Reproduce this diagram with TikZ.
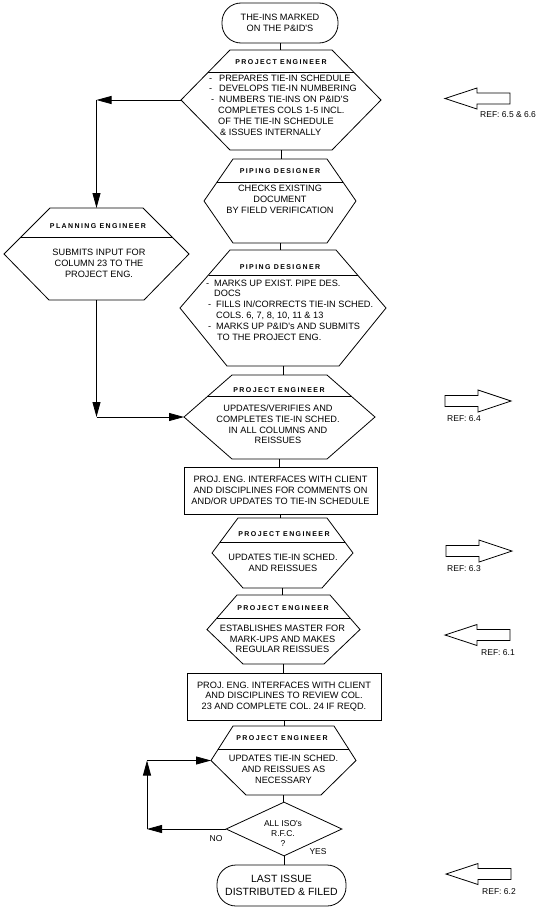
\documentclass[tikz,border=0pt]{standalone}
\usepackage{fontspec}
\setmainfont{Liberation Sans}
\newfontfamily\titlefont[LetterSpace=20]{Liberation Sans}
\usetikzlibrary{arrows.meta,shapes.geometric,calc}
\tikzset{
  line/.style={draw, line width=0.8pt},
  flow/.style={line, -{Triangle[length=15pt,width=8pt]}},
  hexbox/.style={inner sep=0pt, outer sep=0pt},
  term/.style={line, rounded corners=19pt, inner sep=0pt},
  procbox/.style={line, inner sep=0pt},
  titletext/.style={font=\titlefont\bfseries\fontsize{7}{8}\selectfont, inner sep=0pt},
  bodytext/.style={font=\fontsize{9.2}{10.8}\selectfont, align=center, inner sep=0pt},
  bodyleft/.style={bodytext, align=left, anchor=west},
  smalltext/.style={font=\fontsize{8.5}{10.4}\selectfont, align=center, inner sep=0pt},
  reftext/.style={font=\fontsize{8.5}{10}\selectfont, anchor=west, inner sep=0pt},
  larrow/.pic={\draw[line] (0,0) -- (32,-10.5) -- (32,-5.5) -- (65,-5.5) -- (65,5.5) -- (32,5.5) -- (32,10.5) -- cycle;},
  rarrow/.pic={\draw[line] (0,0) -- (-33,-11) -- (-33,-5.5) -- (-66,-5.5) -- (-66,5.5) -- (-33,5.5) -- (-33,11) -- cycle;}
}
% #1 node name, #2 top inset, #3 bottom inset, #4 divider fraction
\newcommand\hexdraw[4]{%
  \draw[line] (#1.west) -- ([xshift=#2pt]#1.north west) -- ([xshift=-#2pt]#1.north east) -- (#1.east)
     -- ([xshift=-#3pt]#1.south east) -- ([xshift=#3pt]#1.south west) -- cycle;
  \draw[line] ($(#1.west)!#4!([xshift=#2pt]#1.north west)$) -- ($(#1.east)!#4!([xshift=-#2pt]#1.north east)$);
}
\begin{document}
\begin{tikzpicture}[x=1pt,y=-1pt]
\fill[white] (0,0) rectangle (549,910);
\useasboundingbox (0,0) rectangle (549,910);

% start
\node[term, bodytext, minimum width=116pt, minimum height=40pt] (start) at (280,23) {THE-INS MARKED\\ON THE P\&ID\textquotesingle S};

% hex 1
\node[hexbox, minimum width=200pt, minimum height=100pt] (h1) at (281,100) {};
\hexdraw{h1}{49}{49}{0.56}
\node[titletext] at (281,62) {PROJECT ENGINEER};
\node[bodyleft] at (209,105) {\makebox[10pt][l]{-}PREPARES TIE-IN SCHEDULE\\
\makebox[10pt][l]{-}DEVELOPS TIE-IN NUMBERING\\
\hspace{2pt}\makebox[8pt][l]{-}NUMBERS TIE-INS ON P\&ID\textquotesingle S\\
\hspace{9pt}COMPLETES COLS 1-5 INCL.\\
\hspace{9pt}OF THE TIE-IN SCHEDULE\\
\hspace{11pt}\& ISSUES INTERNALLY};

% hex 2
\node[hexbox, minimum width=152pt, minimum height=84pt] (h2) at (280,201) {};
\hexdraw{h2}{29}{29}{0.45}
\node[titletext] at (280,171) {PIPING DESIGNER};
\node[bodytext] at (280,199.5) {CHECKS EXISTING\\DOCUMENT\\BY FIELD VERIFICATION};

% hex 3
\node[hexbox, minimum width=206pt, minimum height=116pt] (h3) at (283,308) {};
\hexdraw{h3}{50}{47}{0.57}
\node[titletext] at (280,267) {PIPING DESIGNER};
\node[bodyleft] at (206,310) {\makebox[8pt][l]{-}MARKS UP EXIST. PIPE DES.\\
\hspace{8pt}DOCS\\
\hspace{2pt}\makebox[8pt][l]{-}FILLS IN/CORRECTS TIE-IN SCHED.\\
\hspace{10pt}COLS. 6, 7, 8, 10, 11 \& 13\\
\hspace{2pt}\makebox[8pt][l]{-}MARKS UP P\&ID\textquotesingle s AND SUBMITS\\
\hspace{11pt}TO THE PROJECT ENG.};

% planning engineer
\node[hexbox, minimum width=185pt, minimum height=92pt] (pl) at (96.5,254) {};
\hexdraw{pl}{46}{45}{0.37}
\node[titletext] at (98,226) {PLANNING ENGINEER};
\node[bodytext] at (99,263.5) {SUBMITS INPUT FOR\\COLUMN 23 TO THE\\PROJECT ENG.};

% hex 4
\node[hexbox, minimum width=191pt, minimum height=84pt] (h4) at (279.5,417) {};
\hexdraw{h4}{48}{48}{0.48}
\node[titletext] at (279,390) {PROJECT ENGINEER};
\node[bodytext] at (278,424.5) {UPDATES/VERIFIES AND\\COMPLETES TIE-IN SCHED.\\IN ALL COLUMNS AND\\REISSUES};

% rect 1
\node[procbox, bodytext, minimum width=193pt, minimum height=47pt] (r1) at (280.5,490.5) {PROJ. ENG. INTERFACES WITH CLIENT\\AND DISCIPLINES FOR COMMENTS ON\\AND/OR UPDATES TO TIE-IN SCHEDULE};

% hex 5
\node[hexbox, minimum width=141pt, minimum height=70pt] (h5) at (282.5,553) {};
\hexdraw{h5}{26}{31}{0.31}
\node[titletext] at (284,534) {PROJECT ENGINEER};
\node[bodytext] at (283,563) {UPDATES TIE-IN SCHED.\\AND REISSUES};

% hex 6
\node[hexbox, minimum width=153pt, minimum height=69pt] (h6) at (283.5,629.5) {};
\hexdraw{h6}{30}{36}{0.33}
\node[titletext] at (283,608) {PROJECT ENGINEER};
\node[bodytext] at (282.5,639) {ESTABLISHES MASTER FOR\\MARK-UPS AND MAKES\\REGULAR REISSUES};

% rect 2
\node[procbox, bodytext, minimum width=194pt, minimum height=47pt] (r2) at (284,696.5) {PROJ. ENG. INTERFACES WITH CLIENT\\AND DISCIPLINES TO REVIEW COL.\\23 AND COMPLETE COL. 24 IF REQD.};

% hex 7
\node[hexbox, minimum width=145pt, minimum height=69pt] (h7) at (283.5,760.5) {};
\hexdraw{h7}{22}{35}{0.33}
\node[titletext] at (282,738) {PROJECT ENGINEER};
\node[bodytext] at (283.5,769.5) {UPDATES TIE-IN SCHED.\\AND REISSUES AS\\NECESSARY};

% decision
\node[diamond, line, minimum width=116pt, minimum height=54pt, inner sep=0pt] (dec) at (284,829) {};
\node[smalltext] (dectext) at (283,833.5) {ALL ISO\textquotesingle s\\R.F.C.\\?};
\node[smalltext] (no) at (216,839) {NO};
\node[smalltext] (yes) at (318,852) {YES};

% end
\node[term, font=\fontsize{10.5}{12.5}\selectfont, align=center, minimum width=129pt, minimum height=41pt] (end) at (281.5,885.5) {LAST ISSUE\\DISTRIBUTED \& FILED};

% vertical connectors
\draw[line] (start.south) -- (start.south |- h1.north);
\draw[line] (h1.south) -- (h1.south |- h2.north);
\draw[line] (h2.south) -- (h2.south |- h3.north);
\draw[line] (h3.south) -- (h3.south |- h4.north);
\draw[line] (h4.south) -- (h4.south |- r1.north);
\draw[line] (r1.south) -- (r1.south |- h5.north);
\draw[line] (h5.south) -- (h5.south |- h6.north);
\draw[line] (h6.south) -- (h6.south |- r2.north);
\draw[line] (r2.south) -- (r2.south |- h7.north);
\draw[line] (h7.south) -- (h7.south |- dec.north);
\draw[line] (dec.south) -- (dec.south |- end.north);

% side branch
\coordinate (c1) at (h1.west -| pl.north);
\draw[flow] (h1.west) -- (c1);
\draw[flow] (c1) -- (pl.north);
\coordinate (c2) at (pl.south |- h4.west);
\draw[flow] (pl.south) -- (c2);
\draw[flow] (c2) -- (h4.west);

% loop back
\coordinate (c3) at (147,829);
\coordinate (c4) at (c3 |- h7.west);
\draw[flow] (dec.west) -- (c3);
\draw[flow] (c3) -- (c4);
\draw[flow] (c4) -- (h7.west);

% reference arrows
\pic at (445,98.5) {larrow};
\node[reftext] (ref1) at (480,115) {REF: 6.5 \& 6.6};
\pic at (511,401) {rarrow};
\node[reftext] (ref2) at (447,419) {REF: 6.4};
\pic at (512,551) {rarrow};
\node[reftext] (ref3) at (447,569) {REF: 6.3};
\pic at (445,635) {larrow};
\node[reftext] (ref4) at (481,653) {REF: 6.1};
\pic at (446,874) {larrow};
\node[reftext] (ref5) at (482,892) {REF: 6.2};
\end{tikzpicture}
\end{document}
